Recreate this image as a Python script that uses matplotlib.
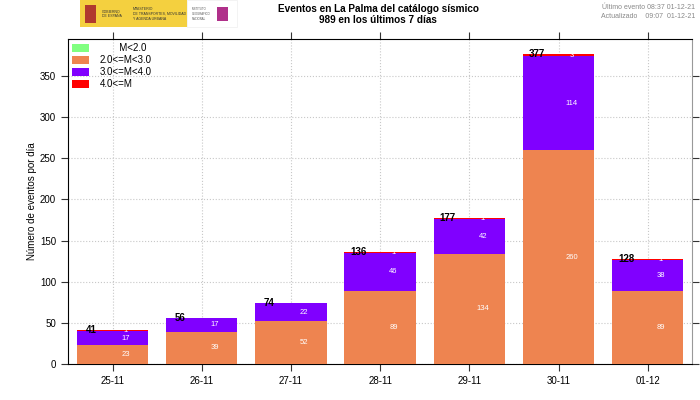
import numpy as np
import matplotlib.pyplot as plt
from matplotlib.patches import Rectangle, Patch

plt.rcParams['font.family'] = ['Liberation Sans', 'DejaVu Sans']

# daily counts per magnitude class
days = ['25-11', '26-11', '27-11', '28-11', '29-11', '30-11', '01-12']
m_lt2 = [0, 0, 0, 0, 0, 0, 0]
m_2_3 = [23, 39, 52, 89, 134, 260, 89]
m_3_4 = [17, 17, 22, 46, 42, 114, 38]
m_ge4 = [1, 0, 0, 1, 1, 3, 1]

labels = ['       M<2.0', '2.0<=M<3.0', '3.0<=M<4.0', '4.0<=M']
colors = ['#80FF80', '#EE8450', '#8000FF', '#FF0000']

fig = plt.figure(figsize=(7, 4), dpi=100)
ax = fig.add_axes([0.097, 0.09, 0.892, 0.8125])

x = np.arange(len(days))
series = [m_lt2, m_2_3, m_3_4, m_ge4]
bottom = np.zeros(len(days))
for vals, col in zip(series, colors):
    vals = np.array(vals)
    ax.bar(x, vals, 0.8, bottom=bottom, color=col, edgecolor='none', zorder=3)
    for xi, b, v in zip(x, bottom, vals):
        if v > 0:
            ax.text(xi + 0.15, b + v / 2, str(v), color='white', fontsize=5.5,
                    ha='center', va='center', zorder=4)
    bottom += vals

for xi, tot in zip(x, bottom):
    ax.text(xi - 0.24, tot, str(int(tot)), fontsize=7, fontweight='bold',
            ha='center', va='center', zorder=5)

ax.set_xlim(-0.5, len(days) - 0.5)
ax.set_ylim(0, 395)
ax.set_xticks(x)
ax.set_xticklabels(days)
ax.set_yticks(np.arange(0, 351, 50))
ax.tick_params(axis='both', labelsize=7, direction='out', length=5, color='#333333')
ax.tick_params(top=True, right=True)
ax.grid(True, linestyle=':', color='#c8c8c8', linewidth=0.8, zorder=0)
ax.spines['right'].set_color('#999999')
ax.set_ylabel('Número de eventos por día', fontsize=7, labelpad=2)

handles = [Patch(facecolor=c, edgecolor='none') for c in colors]
ax.legend(handles, labels, loc='upper left', frameon=False, fontsize=7,
          handlelength=1.75, handleheight=0.8, handletextpad=1.1, labelspacing=0.2,
          borderpad=0.3, borderaxespad=0.15)

fig.text(0.54, 0.99, 'Eventos en La Palma del catálogo sísmico\n989 en los últimos 7 días',
         ha='center', va='top', fontsize=7.2, fontweight='bold', linespacing=1.15)
fig.text(0.993, 0.99, 'Último evento 08:37 01-12-21\nActualizado    09:07  01-12-21',
         ha='right', va='top', fontsize=5, color='#888888', linespacing=1.3)

# logo block
fig.patches.append(Rectangle((0.114, 0.932), 0.153, 0.068, transform=fig.transFigure,
                             facecolor='#F4D03F', edgecolor='none'))
fig.patches.append(Rectangle((0.267, 0.932), 0.072, 0.068, transform=fig.transFigure,
                             facecolor='white', edgecolor='#eeeeee', linewidth=0.5))
fig.patches.append(Rectangle((0.121, 0.942), 0.016, 0.045, transform=fig.transFigure,
                             facecolor='#b03a2e', edgecolor='none'))
fig.text(0.145, 0.965, 'GOBIERNO\nDE ESPAÑA', fontsize=2.5, va='center', color='#333333')
fig.text(0.19, 0.965, 'MINISTERIO\nDE TRANSPORTES, MOVILIDAD\nY AGENDA URBANA', fontsize=2.5,
         va='center', color='#333333')
fig.text(0.274, 0.965, 'INSTITUTO\nGEOGRÁFICO\nNACIONAL', fontsize=2, va='center', color='#555555')
fig.patches.append(Rectangle((0.31, 0.948), 0.015, 0.035, transform=fig.transFigure,
                             facecolor='#b0308a', edgecolor='none'))

fig.savefig('out.png', dpi=100)
